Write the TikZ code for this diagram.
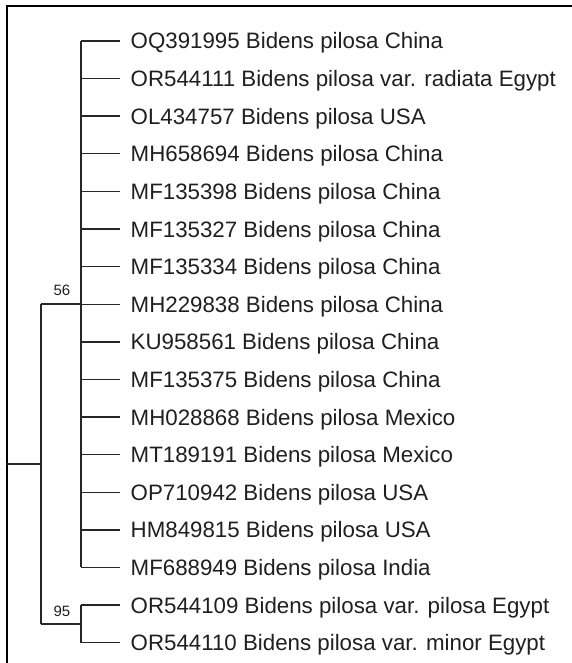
\documentclass[tikz,border=0pt]{standalone}
\usepackage{fontspec}
\setmainfont{Liberation Sans}
\begin{document}
\begin{tikzpicture}[x=1pt,y=-1pt,
  branch/.style={line width=1.4pt,draw=black!85},
  frame/.style={line width=1.8pt,draw=black},
  leaf/.style={anchor=base west,inner sep=0pt,font=\fontsize{22.3}{26}\selectfont,text=black!88},
  boot/.style={anchor=base,inner sep=0pt,font=\fontsize{15}{18}\selectfont,text=black!88}]
\useasboundingbox (0,0) rectangle (572,663);
\draw[frame] (7,663) -- (7,6) -- (572,6);
\def\xl{81}\def\xe{120}\def\xt{130.5}
\foreach \lab [count=\i from 0] in {
 OQ391995 Bidens pilosa China,
 OR544111 Bidens pilosa var. radiata Egypt,
 OL434757 Bidens pilosa USA,
 MH658694 Bidens pilosa China,
 MF135398 Bidens pilosa China,
 MF135327 Bidens pilosa China,
 MF135334 Bidens pilosa China,
 MH229838 Bidens pilosa China,
 KU958561 Bidens pilosa China,
 MF135375 Bidens pilosa China,
 MH028868 Bidens pilosa Mexico,
 MT189191 Bidens pilosa Mexico,
 OP710942 Bidens pilosa USA,
 HM849815 Bidens pilosa USA,
 MF688949 Bidens pilosa India,
 OR544109 Bidens pilosa var. pilosa Egypt,
 OR544110 Bidens pilosa var. minor Egypt}{
  \pgfmathsetmacro{\yy}{41+37.6*\i}
  \coordinate (t\i) at (\xe,\yy);
  \coordinate (b\i) at (\xl,\yy);
  \node[leaf] (n\i) at (\xt,\yy+8) {\lab};
  \draw[branch] (b\i) -- (t\i);
}
\coordinate (c56) at (\xl,304);
\coordinate (c95) at (\xl,624);
\coordinate (r56) at (41,304);
\coordinate (r95) at (41,624);
\coordinate (root) at (41,464);
\coordinate (rootend) at (7,464);
\draw[branch] (b0) -- (b14);
\draw[branch] (b15) -- (b16);
\draw[branch] (r56) -- (c56);
\draw[branch] (r95) -- (c95);
\draw[branch] (r56) -- (r95);
\draw[branch] (rootend) -- (root);
\node[boot] (l56) at (62,295) {56};
\node[boot] (l95) at (62,616) {95};
\end{tikzpicture}
\end{document}
